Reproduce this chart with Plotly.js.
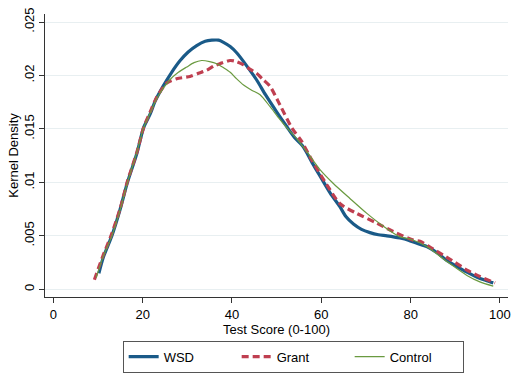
<!DOCTYPE html>
<html>
<head>
<meta charset="utf-8">
<script src="https://cdn.plot.ly/plotly-3.0.1.min.js"></script>
<style>html,body{margin:0;padding:0;background:#fff;}#chart{width:517px;height:383px;}</style>
</head>
<body>
<div id="chart"></div>
<script>
const wsdX = [10.2, 11.2, 13.1, 14.9, 16.6, 18.7, 20.2, 21.7, 22.8, 24.6, 26.5, 28.4, 30.2, 32.1, 34, 35.5, 37, 38.1, 39.6, 41.1, 43.3, 45.5, 47.5, 50, 52.3, 54, 56, 58, 60, 62, 64.2, 65.5, 67.2, 69, 70.9, 72.8, 74.7, 77.6, 79.5, 81.4, 83.6, 86, 88.1, 90.5, 92.6, 95, 97, 98.5];
const wsdY = [0.0015, 0.0030, 0.0050, 0.0074, 0.0100, 0.0127, 0.0151, 0.0164, 0.0176, 0.0190, 0.0203, 0.0214, 0.0222, 0.0228, 0.0232, 0.0233, 0.0233, 0.0231, 0.0227, 0.0221, 0.0209, 0.0196, 0.0182, 0.0166, 0.0152, 0.0142, 0.0133, 0.0118, 0.0104, 0.0090, 0.0077, 0.0068, 0.0061, 0.0056, 0.0053, 0.0051, 0.0050, 0.0048, 0.0046, 0.0043, 0.0040, 0.0034, 0.0027, 0.0021, 0.0016, 0.0011, 0.0008, 0.0006];

const grantX = [9.2, 11, 13, 15, 16.6, 18.7, 20.2, 21.7, 23.2, 25.4, 27.6, 30.6, 32.5, 34.4, 36, 37.3, 39.6, 41, 42.6, 44, 45.5, 47, 48.5, 50.8, 53.4, 55.5, 58, 61.2, 64.2, 67.9, 72.4, 76.1, 80.6, 82.1, 84.5, 87.3, 90, 92.6, 95.5, 98.9];
const grantY = [0.0009, 0.0030, 0.0051, 0.0076, 0.0101, 0.0128, 0.0151, 0.0166, 0.0180, 0.0193, 0.0197, 0.0199, 0.0202, 0.0205, 0.0209, 0.0211, 0.0214, 0.0213, 0.0210, 0.0206, 0.0202, 0.0196, 0.0190, 0.0172, 0.0151, 0.0139, 0.0120, 0.0098, 0.0080, 0.0071, 0.0062, 0.0054, 0.0046, 0.0045, 0.0039, 0.0032, 0.0025, 0.0018, 0.0012, 0.0006];

const controlX = [9.6, 11.2, 13.1, 15, 16.6, 18.7, 20.2, 21.7, 23.2, 26.1, 28, 29.9, 31.5, 33.2, 35, 36.6, 38.2, 39.6, 41, 42.6, 44.5, 46.3, 48.5, 50.5, 52.5, 54.5, 56.7, 59.7, 62.7, 66.4, 70.2, 73.9, 77.6, 79.9, 83.6, 88.1, 92.6, 95.5, 98.5];
const controlY = [0.0011, 0.0031, 0.0050, 0.0075, 0.0100, 0.0128, 0.0151, 0.0165, 0.0179, 0.0196, 0.0203, 0.0208, 0.0212, 0.0214, 0.0213, 0.0211, 0.0207, 0.0203, 0.0197, 0.0191, 0.0186, 0.0182, 0.0171, 0.0160, 0.0150, 0.0141, 0.0129, 0.0112, 0.0099, 0.0085, 0.0071, 0.0059, 0.0049, 0.0047, 0.0040, 0.0026, 0.0013, 0.0007, 0.0003];

const seriesNames = ["WSD", "Grant", "Control"];
const xTickVals = [0, 20, 40, 60, 80, 100];
const yTickVals = [0, 0.005, 0.01, 0.015, 0.02, 0.025];
const yTickText = ["0", ".005", ".01", ".015", ".02", ".025"];

const FONT = "Liberation Sans, Arial, Helvetica, sans-serif";

const traces = [
  {x: wsdX, y: wsdY, name: seriesNames[0], type: "scatter", mode: "lines",
   line: {color: "#1a5a88", width: 3.2, shape: "spline", smoothing: 0.7}},
  {x: grantX, y: grantY, name: seriesNames[1], type: "scatter", mode: "lines",
   line: {color: "#bf3f50", width: 3.2, dash: "7px,4px", shape: "spline", smoothing: 0.7}},
  {x: controlX, y: controlY, name: seriesNames[2], type: "scatter", mode: "lines",
   line: {color: "#6a9a40", width: 1.2, shape: "spline", smoothing: 0.7}}
];

const layout = {
  width: 517, height: 383,
  margin: {l: 45, r: 9, t: 14, b: 86},
  paper_bgcolor: "#ffffff", plot_bgcolor: "#ffffff",
  font: {family: FONT, size: 12, color: "#000"},
  showlegend: true,
  legend: {
    orientation: "h", x: 0.536, xanchor: "center", y: -0.154, yanchor: "top",
    bordercolor: "#555", borderwidth: 1, font: {family: FONT, size: 13, color: "#000"},
    entrywidth: 68, traceorder: "normal"
  },
  xaxis: {
    range: [-1.86, 101.8], tickvals: xTickVals, ticks: "outside", ticklen: 5, tickcolor: "#333",
    showline: true, linecolor: "#333", linewidth: 1, showgrid: false, zeroline: false,
    tickfont: {size: 13}, title: {text: "Test Score (0-100)", font: {size: 13}, standoff: 4}
  },
  yaxis: {
    range: [-0.00072, 0.02575], tickvals: yTickVals, ticktext: yTickText, tickangle: -90,
    ticks: "outside", ticklen: 5, tickcolor: "#333",
    showline: true, linecolor: "#333", linewidth: 1, showgrid: true, gridcolor: "#e8eff1", gridwidth: 1,
    zeroline: false, tickfont: {size: 13}, title: {text: "Kernel Density", font: {size: 13}, standoff: 0}
  }
};

Plotly.newPlot("chart", traces, layout, {displayModeBar: false, staticPlot: true});
</script>
</body>
</html>
